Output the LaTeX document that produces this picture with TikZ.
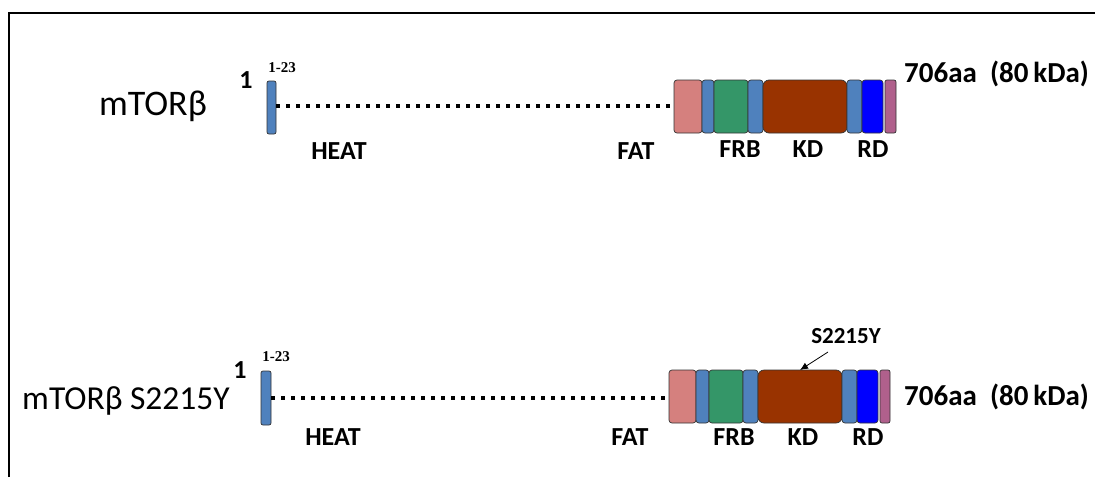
\documentclass[tikz,border=0pt]{standalone}
\usepackage{fontspec}
\setmainfont{Carlito}
\newfontfamily\tms{Liberation Serif}
\usetikzlibrary{arrows.meta}
\begin{document}
\begin{tikzpicture}[x=1pt,y=-1pt,
  dom/.style={draw=black!80,line width=0.7pt,rounded corners=3pt,inner sep=0pt,outer sep=0pt,anchor=north west,minimum height=53pt},
  dotline/.style={line width=4pt,dash pattern=on 4pt off 6pt},
  lbl/.style={font=\bfseries\fontsize{26}{26}\selectfont,inner sep=0pt},
  small/.style={font=\tms\bfseries\fontsize{15}{15}\selectfont,inner sep=0pt},
  num/.style={font=\bfseries\fontsize{29}{29}\selectfont,inner sep=0pt,anchor=west},
  one/.style={font=\bfseries\fontsize{26}{26}\selectfont,inner sep=0pt},
  title/.style={font=\fontsize{36}{36}\selectfont,inner sep=0pt}]
\useasboundingbox (0,0) rectangle (1095,477);
\definecolor{cpink}{RGB}{213,128,126}
\definecolor{csteel}{RGB}{79,129,189}
\definecolor{cgreen}{RGB}{52,150,104}
\definecolor{cbrown}{RGB}{153,51,0}
\definecolor{cblue}{RGB}{0,0,255}
\definecolor{cmauve}{RGB}{176,96,140}
\draw[line width=1.5pt] (9,477) -- (9,13) -- (1095,13);
% Row 1
\node[title] (t1) at (153,106) {mTORβ};
\node[one] (one1) at (246,80) {1};
\node[small] (r1) at (282,68) {1-23};
\node[dom,fill=csteel,minimum width=9pt,minimum height=53pt,rounded corners=2pt] (b1) at (267,81) {};
\node[dom,fill=cpink,minimum width=28pt] (a1) at (674,80) {};
\node[dom,fill=csteel,minimum width=12pt] (a2) at (702,80) {};
\node[dom,fill=cgreen,minimum width=34pt] (a3) at (714,80) {};
\node[dom,fill=csteel,minimum width=15pt] (a4) at (748,80) {};
\node[dom,fill=cbrown,minimum width=84pt,rounded corners=6pt] (a5) at (763,80) {};
\node[dom,fill=csteel,minimum width=15pt] (a6) at (847,80) {};
\node[dom,fill=cblue,minimum width=21pt] (a7) at (862,80) {};
\node[dom,fill=cmauve,minimum width=11pt,rounded corners=2pt] (a8) at (885,80) {};
\draw[dotline] (b1.east |- 0,106) -- (a1.west |- 0,106);
\node[lbl] (h1) at (339,151) {HEAT};
\node[lbl] (f1) at (636,151) {FAT};
\node[lbl] (frb1) at (740,149) {FRB};
\node[lbl] (kd1) at (808,149) {KD};
\node[lbl] (rd1) at (873,149) {RD};
\node[num] (s1) at (904,74) {706aa\ \ (80\,kDa)};
% Row 2
\node[title,font=\fontsize{33.5}{33.5}\selectfont] (t2) at (126,401) {mTORβ S2215Y};
\node[one] (one2) at (240,370) {1};
\node[small] (r2) at (276,357) {1-23};
\node[dom,fill=csteel,minimum width=10pt,minimum height=54pt,rounded corners=2pt] (b2) at (261,371) {};
\node[dom,fill=cpink,minimum width=27pt] (c1) at (669,370) {};
\node[dom,fill=csteel,minimum width=13pt] (c2) at (696,370) {};
\node[dom,fill=cgreen,minimum width=34pt] (c3) at (709,370) {};
\node[dom,fill=csteel,minimum width=15pt] (c4) at (743,370) {};
\node[dom,fill=cbrown,minimum width=84pt,rounded corners=6pt] (c5) at (758,370) {};
\node[dom,fill=csteel,minimum width=15pt] (c6) at (842,370) {};
\node[dom,fill=cblue,minimum width=21pt] (c7) at (857,370) {};
\node[dom,fill=cmauve,minimum width=10pt,rounded corners=2pt] (c8) at (880,370) {};
\draw[dotline] (b2.east |- 0,398) -- (c1.west |- 0,398);
\node[lbl] (h2) at (333,437) {HEAT};
\node[lbl] (f2) at (630,437) {FAT};
\node[lbl] (frb2) at (734,437) {FRB};
\node[lbl] (kd2) at (803,437) {KD};
\node[lbl] (rd2) at (868,437) {RD};
\node[num] (s2) at (904,397) {706aa\ \ (80\,kDa)};
\node[lbl,font=\bfseries\fontsize{23}{23}\selectfont] (mut) at (846,336) {S2215Y};
\coordinate (mt) at (828,352);
\draw[-{Latex[length=8pt,width=7pt]},line width=0.8pt] (mt) -- (c5.north -| 800,0);
\end{tikzpicture}
\end{document}
